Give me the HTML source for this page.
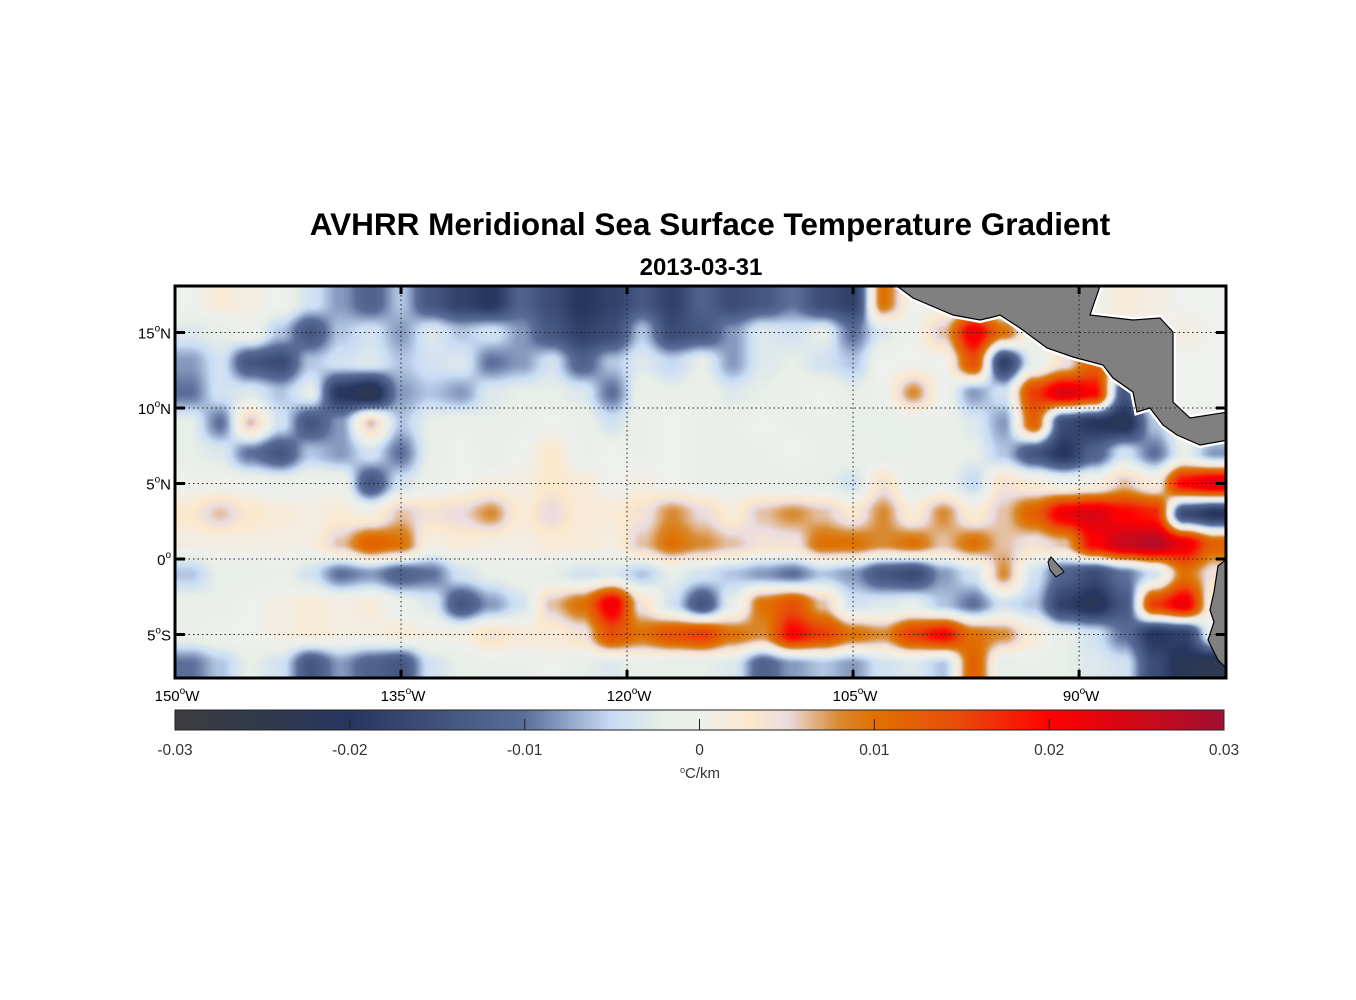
<!DOCTYPE html>
<html><head><meta charset="utf-8">
<style>
html,body{margin:0;padding:0;background:#fff;}
#wrap{position:relative;width:1356px;height:1000px;}
#heat{position:absolute;left:175px;top:286px;width:1051px;height:392px;}
svg{position:absolute;left:0;top:0;display:block;font-family:"Liberation Sans",Arial,sans-serif;}
</style></head>
<body>
<div id="wrap">
<canvas id="heat" width="1051" height="392"></canvas>
<svg id="chart" width="1356" height="1000" viewBox="0 0 1356 1000" xmlns="http://www.w3.org/2000/svg">
<defs>
<clipPath id="mapclip"><rect x="175" y="286" width="1051" height="392"/></clipPath>
<linearGradient id="cbgrad" x1="0" x2="1" y1="0" y2="0">
<stop offset="0" stop-color="#3c3c3c"/>
<stop offset="0.1667" stop-color="#26365e"/>
<stop offset="0.3333" stop-color="#5a6e9a"/>
<stop offset="0.4167" stop-color="#c8dcf5"/>
<stop offset="0.4667" stop-color="#e8eee8"/>
<stop offset="0.5" stop-color="#eef0ee"/>
<stop offset="0.55" stop-color="#fce8cc"/>
<stop offset="0.5833" stop-color="#eadce0"/>
<stop offset="0.6333" stop-color="#d88a30"/>
<stop offset="0.6667" stop-color="#e07000"/>
<stop offset="0.75" stop-color="#e84a0a"/>
<stop offset="0.8333" stop-color="#ff0000"/>
<stop offset="1" stop-color="#a01030"/>
</linearGradient>
</defs>
<text x="710" y="235" text-anchor="middle" font-size="31.5" font-weight="bold">AVHRR Meridional Sea Surface Temperature Gradient</text>
<text x="701" y="275" text-anchor="middle" font-size="24" font-weight="bold">2013-03-31</text>
<g id="map" clip-path="url(#mapclip)">
<g id="land">
<polygon points="897,286 913,298 953,315 980,320 993,317 1000,315 1020,328 1047,348 1073,357 1103,365 1113,378 1133,392 1137,412 1150,408 1163,425 1177,435 1200,445 1228,440 1228,412 1190,418 1173,402 1173,332 1160,318 1133,320 1107,317 1090,315 1100,286" fill="#808080" stroke="#fff" stroke-width="6"/>
<polygon points="897,286 913,298 953,315 980,320 993,317 1000,315 1020,328 1047,348 1073,357 1103,365 1113,378 1133,392 1137,412 1150,408 1163,425 1177,435 1200,445 1228,440 1228,412 1190,418 1173,402 1173,332 1160,318 1133,320 1107,317 1090,315 1100,286" fill="#808080" stroke="#000" stroke-width="1.2"/>
<polygon points="1228,558 1218,566 1214,592 1210,610 1214,622 1208,640 1218,660 1228,670" fill="#808080" stroke="#000" stroke-width="1.2"/>
<polygon points="1051,557 1059,566 1064,572 1056,577 1050,570 1048,562" fill="#808080" stroke="#000" stroke-width="1"/>
</g>
<g id="grid" stroke="#222" stroke-width="1" stroke-dasharray="1.5,3"></g>
</g>
<rect x="175" y="286" width="1051" height="392" fill="none" stroke="#000" stroke-width="3"/>
<g id="ticks"></g>
<g id="colorbar">
<rect x="175" y="710" width="1049" height="20" fill="url(#cbgrad)" stroke="#222" stroke-width="1"/>
</g>
<text x="700" y="778" text-anchor="middle" font-size="15" fill="#333"><tspan font-size="9" baseline-shift="super">o</tspan>C/km</text>
</svg>
</div>
<script>
const lats = [17,15,13,11,9,7,5,3,1,-1,-3,-5,-7];
const lonStart = -150, lonStep = 2;
const row0  = [0,2,1,0,-4,-8,-12,-6,-14,-18,-20,-12,-16,-20,-18,-14,-18,-12,-16,-14,-10,-16,-18,10,0,0,0,0,0,0,0,2,1,0,0];
const row1  = [-3,-2,0,-6,-14,-6,-4,-8,-3,-6,-4,-8,-14,-18,-16,-6,-16,-14,-8,-3,-4,-2,-10,-3,0,6,22,10,0,0,0,0,0,1,0];
const row2  = [-8,-4,-14,-16,-6,-4,-3,-6,-4,-3,-10,-8,-4,-12,-6,-3,-5,-2,-8,-3,-2,-4,-6,0,0,0,14,-18,-2,4,12,0,0,0,0];
const row3  = [-10,-4,-3,-6,-2,-20,-24,-8,-6,-8,-3,-2,-2,-3,-10,-1,-2,-1,-3,-2,-1,0,-2,0,8,0,-8,-4,16,24,20,-14,0,0,0];
const row4  = [-2,-10,6,-4,-14,-8,6,-6,-2,-1,-2,-1,0,-1,-4,-1,0,-1,-1,0,-1,-1,-2,-2,-2,-1,-3,-8,12,-16,-20,-22,-6,0,0];
const row5  = [-2,-3,-10,-14,-6,-8,-4,-10,-2,0,-2,0,3,-1,0,-1,0,-1,-1,-1,0,-1,-1,-2,-2,-1,-2,-6,-14,-20,-12,-4,-10,-2,-8];
const row6  = [0,0,0,-1,0,0,-14,-4,-1,0,1,1,3,2,0,1,0,-1,-1,-1,-2,-2,-4,4,-2,-1,-5,4,2,0,1,6,2,20,24];
const row7  = [3,6,3,2,1,2,1,6,4,5,8,2,5,2,2,4,8,5,2,6,8,6,3,8,2,8,2,6,12,22,24,20,18,-16,-20];
const row8  = [1,1,1,1,1,6,12,10,1,2,1,1,2,2,1,6,10,8,6,4,4,10,10,8,10,6,10,6,4,6,20,26,28,22,12];
const row9  = [-6,-2,-2,-1,-4,-10,-8,-12,-10,-4,-2,-1,-2,-4,-3,-6,-2,-4,-6,-8,-10,-6,-8,-14,-16,-8,-4,8,-4,-12,-16,-10,-4,10,4];
const row10 = [-1,-2,0,1,2,1,2,-1,-3,-14,-8,-4,6,10,22,4,-4,-14,-2,10,14,6,-4,-3,-2,-6,-10,-4,-6,-18,-22,-14,16,22,0];
const row11 = [-1,0,0,1,2,1,1,2,1,1,4,2,2,4,14,10,14,16,10,8,20,16,10,8,16,20,10,8,2,-2,-4,-10,-20,-18,0];
const row12 = [-10,-6,-2,-4,-14,-8,-12,-14,-4,-2,-1,-1,0,-2,-3,-1,-2,-2,-3,-12,-8,-6,-8,-4,-3,-6,12,-2,-1,-2,-3,-4,-16,-22,-24];
const rows = [row0,row1,row2,row3,row4,row5,row6,row7,row8,row9,row10,row11,row12];
const xTickLons = [-150,-135,-120,-105,-90];
const xTickLabels = ["150","135","120","105","90"];
const yTickLats = [15,10,5,0,-5];
const yTickLabels = ["15","10","5","0","5"];
const yTickSuffix = ["N","N","N","","S"];
const cbTicks = [-0.03,-0.02,-0.01,0,0.01,0.02,0.03];
const cbLabels = ["-0.03","-0.02","-0.01","0","0.01","0.02","0.03"];

const NS = "http://www.w3.org/2000/svg";
const xOf = lon => 175 + (lon + 150) * (1051 / 69.75);
const yOf = lat => 559 - lat * 15.1;
const lonOfX = x => (x - 175) / (1051 / 69.75) - 150;
const latOfY = y => (559 - y) / 15.1;
const cbX = v => 175 + (v + 0.03) / 0.06 * 1049;
const stops = [[-30,[60,60,60]],[-20,[38,54,94]],[-10,[90,110,154]],[-5,[200,220,245]],[-2,[232,238,232]],[0,[238,240,238]],[3,[252,232,204]],[5,[234,220,224]],[8,[216,138,48]],[10,[224,112,0]],[15,[232,74,10]],[20,[255,0,0]],[30,[160,16,48]]];
function colorArr(v){
  v=Math.max(-30,Math.min(30,v));
  for(let i=0;i<stops.length-1;i++){
    const [a,ca]=stops[i],[b,cb]=stops[i+1];
    if(v>=a&&v<=b){const t=(v-a)/(b-a);return ca.map((x,k)=>Math.round(x+(cb[k]-x)*t));}
  }
  return [238,240,238];
}
// bilinear sample of the grid (cell centres at lon = lonStart + lonStep*(i+0.5), lat = lats[j])
function sample(lon,lat){
  const nC=rows[0].length, nR=rows.length;
  let fi=(lon-lonStart)/lonStep-0.5; fi=Math.max(0,Math.min(nC-1,fi));
  let fj=(lats[0]-lat)/2; fj=Math.max(0,Math.min(nR-1,fj));
  const i0=Math.floor(fi), j0=Math.floor(fj);
  const i1=Math.min(nC-1,i0+1), j1=Math.min(nR-1,j0+1);
  const tx=fi-i0, ty=fj-j0;
  const s=t=>t*t*(3-2*t);
  const ax=s(tx), ay=s(ty);
  const a=rows[j0][i0]*(1-ax)+rows[j0][i1]*ax;
  const b=rows[j1][i0]*(1-ax)+rows[j1][i1]*ax;
  return a*(1-ay)+b*ay;
}
const cv=document.getElementById("heat");
const ctx=cv.getContext("2d");
const img=ctx.createImageData(1051,392);
for(let py=0;py<392;py++){
  const lat=latOfY(286+py+0.5);
  for(let px=0;px<1051;px++){
    const c=colorArr(sample(lonOfX(175+px+0.5),lat));
    const k=(py*1051+px)*4;
    img.data[k]=c[0];img.data[k+1]=c[1];img.data[k+2]=c[2];img.data[k+3]=255;
  }
}
ctx.putImageData(img,0,0);

const grid=document.getElementById("grid");
const ticks=document.getElementById("ticks");
function line(g,x1,y1,x2,y2,attrs){const l=document.createElementNS(NS,"line");l.setAttribute("x1",x1);l.setAttribute("y1",y1);l.setAttribute("x2",x2);l.setAttribute("y2",y2);for(const k in attrs)l.setAttribute(k,attrs[k]);g.appendChild(l);return l;}
xTickLons.forEach((lon,i)=>{
  const x=xOf(lon);
  if(i>0){const gl=line(grid,x,286,x,678,{});
    
    }
  line(ticks,x,286,x,294,{stroke:"#000","stroke-width":3});
  line(ticks,x,670,x,678,{stroke:"#000","stroke-width":3});
  const t=document.createElementNS(NS,"text");
  
  
  t.setAttribute("x",x+2);t.setAttribute("y",701);t.setAttribute("text-anchor","middle");t.setAttribute("font-size","15");
  t.innerHTML=xTickLabels[i]+'<tspan font-size="10" dy="-7">o</tspan><tspan dy="7">W</tspan>';
  ticks.appendChild(t);
});
yTickLats.forEach((lat,i)=>{
  const y=yOf(lat);
  const gl=line(grid,175,y,1226,y,{});
  
  
  line(ticks,175,y,185,y,{stroke:"#000","stroke-width":3});
  line(ticks,1216,y,1226,y,{stroke:"#000","stroke-width":3});
  const t=document.createElementNS(NS,"text");
  
  
  t.setAttribute("x",171);t.setAttribute("y",y+6);t.setAttribute("text-anchor","end");t.setAttribute("font-size","15");
  t.innerHTML=yTickLabels[i]+'<tspan font-size="10" dy="-7">o</tspan><tspan dy="7">'+yTickSuffix[i]+'</tspan>';
  ticks.appendChild(t);
});
const cb=document.getElementById("colorbar");
cbTicks.forEach((v,i)=>{
  const x=cbX(v);
  if(i>0&&i<cbTicks.length-1) line(cb,x,719,x,730,{stroke:"#222","stroke-width":1});
  const t=document.createElementNS(NS,"text");
  
  
  t.setAttribute("x",x);t.setAttribute("y",755);t.setAttribute("text-anchor","middle");t.setAttribute("font-size","15.5");t.setAttribute("fill","#333");
  t.textContent=cbLabels[i];
  cb.appendChild(t);
});
</script>
</body></html>
